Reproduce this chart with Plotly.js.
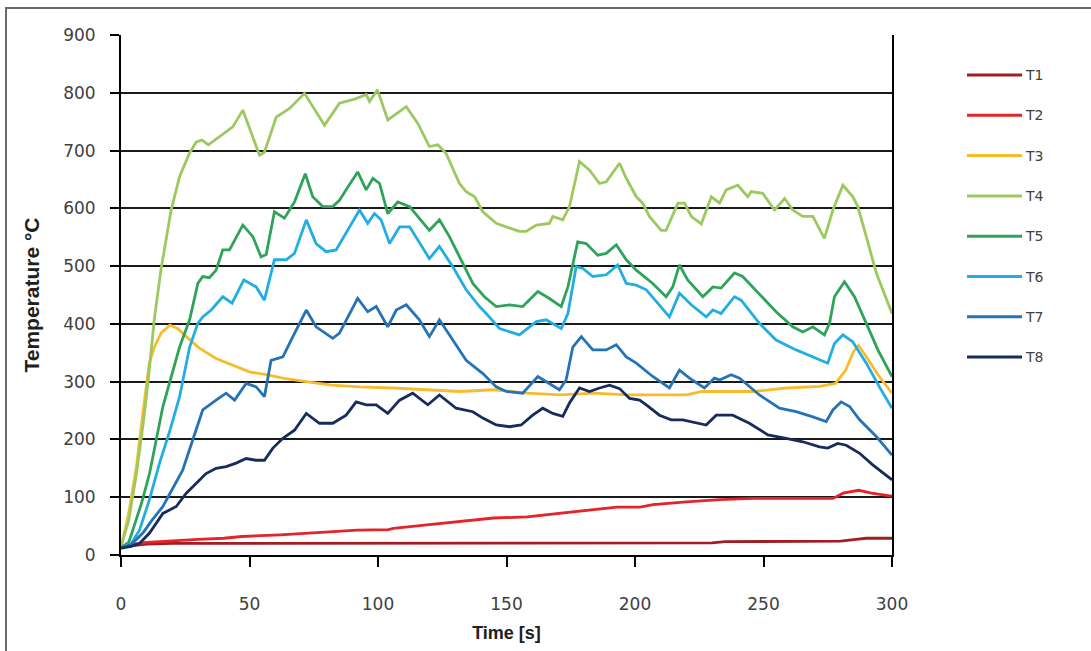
<!DOCTYPE html>
<html>
<head>
<meta charset="utf-8">
<script src="https://cdn.plot.ly/plotly-3.0.1.min.js"></script>
<style>
  html, body { margin: 0; padding: 0; background: #ffffff; }
  #chart { width: 1091px; height: 651px; }
</style>
</head>
<body>
<div id="chart"></div>
<script>
// Thermocouple readings T1..T8, time in seconds, temperature in °C
const seriesNames = ["T1", "T2", "T3", "T4", "T5", "T6", "T7", "T8"];
const seriesColors = ["#A11D22", "#E3242B", "#F7BC2C", "#9CC95F", "#2FA35A", "#22ADE3", "#2573B6", "#172B5C"];

const t1Time = [0, 5, 10, 20, 40, 80, 120, 160, 200, 230, 235, 280, 286, 290, 300];
const t1Temp = [14, 17, 19, 20, 20, 20, 20, 20, 20, 21, 23, 24, 27, 29, 29];

const t2Time = [0, 5, 10, 20, 30, 40, 47, 62, 82, 92, 104, 106, 119, 132, 145, 158, 171, 184, 193, 202, 207, 220, 233, 246, 259, 277, 281, 287, 292, 300];
const t2Temp = [14, 19, 22, 25, 27, 29, 32, 35, 40, 43, 44, 46, 52, 58, 64, 66, 72, 78, 83, 83, 87, 92, 96, 98, 98, 98, 107, 112, 107, 102];

const t3Time = [0, 1, 3, 6, 8.5, 11, 13, 15.6, 19, 22, 25.4, 30.5, 37, 43.5, 50, 56.5, 63, 72, 82, 93, 101, 106, 119, 132, 145, 158, 171, 184, 197, 207, 220, 226, 246, 259, 272, 278, 282, 285, 287, 290, 295, 300];
const t3Temp = [15, 32, 72, 153, 245, 332, 360, 384, 398, 392, 378, 358, 340, 329, 317, 312, 306, 300, 294, 291, 289, 289, 286, 283, 286, 280, 277, 280, 277, 277, 277, 283, 283, 289, 292, 297, 320, 352, 363, 343, 309, 280];

const t4Time = [0, 3, 6, 9, 11, 13, 15.6, 19.5, 22.8, 26.6, 29.3, 31.5, 34, 38.3, 43.5, 47.4, 53.9, 55.8, 60.4, 65.6, 71.4, 79.2, 85, 91.5, 95.4, 96.7, 99.8, 103.8, 111, 115.5, 120, 123.3, 126.5, 131.7, 134.3, 137.6, 140.8, 146, 150, 155, 157.6, 161.6, 166.7, 168, 171.9, 174.5, 178.4, 182.3, 186.2, 188.8, 194, 196.6, 200.5, 203, 205.6, 210.2, 212.1, 216.7, 219.3, 221.9, 225.8, 229.7, 232.9, 235.5, 240, 243.9, 245.2, 249.7, 254.3, 258.2, 261.4, 265.3, 269.2, 273.7, 277, 280.9, 284.8, 286.7, 290, 293.9, 300];
const t4Temp = [15, 60, 140, 240, 320, 410, 495, 597, 655, 695, 715, 718, 710, 724, 741, 770, 692, 697, 758, 773, 799, 744, 782, 790, 797, 785, 805, 753, 776, 747, 707, 710, 695, 643, 629, 620, 594, 574, 568, 560, 560, 571, 574, 586, 580, 603, 681, 666, 643, 646, 678, 652, 620, 609, 586, 562, 562, 609, 609, 586, 573, 620, 609, 632, 640, 620, 629, 626, 597, 617, 597, 586, 586, 548, 597, 640, 620, 603, 551, 488, 418];

const t5Time = [0, 3, 4.6, 8, 11.1, 16.3, 22.8, 26.7, 29.9, 31.8, 34.4, 37, 39.6, 42.2, 47.4, 51.3, 54.5, 56.5, 59.7, 63.6, 67.5, 71.7, 74.6, 78.5, 82.4, 85, 87.6, 92.1, 95.4, 98, 100.6, 103.8, 107.7, 112.3, 120, 123.9, 127.8, 133, 136.9, 141.4, 146, 151.2, 156.3, 162.2, 166.7, 171.3, 173.9, 177.7, 181, 185.5, 188.8, 192.7, 196.6, 200.5, 206.9, 212.1, 214.7, 217.3, 220.5, 226.4, 230.3, 233.5, 238.7, 241.9, 245.8, 254.9, 261.4, 265.3, 269.2, 273.7, 275.7, 277.6, 281.5, 285.4, 290, 294.5, 300];
const t5Temp = [13, 22, 43, 90, 141, 257, 360, 407, 470, 482, 480, 493, 528, 528, 571, 551, 516, 520, 594, 583, 611, 660, 620, 603, 603, 614, 632, 663, 632, 652, 643, 591, 611, 603, 562, 580, 551, 505, 470, 447, 430, 433, 430, 456, 444, 430, 464, 542, 539, 519, 522, 537, 511, 493, 470, 447, 464, 502, 476, 447, 464, 462, 488, 482, 464, 421, 395, 386, 395, 381, 401, 447, 473, 447, 401, 355, 309];

const t6Time = [0, 4, 7.2, 11, 15, 19, 22.8, 26.7, 29.9, 31.8, 35.1, 39.6, 43.2, 47.8, 52.6, 55.8, 59.7, 64.3, 67.5, 72.1, 75.9, 79.8, 83.7, 87.6, 92.8, 96, 98.6, 101.2, 104.5, 108.4, 112.3, 120, 123.9, 129.1, 134.3, 139.5, 142.1, 147.3, 155, 161.6, 165.4, 171.3, 173.9, 177.1, 179.7, 183.6, 188.8, 193.3, 196.6, 200.5, 204.4, 213.4, 217.3, 221.9, 227.7, 230.3, 233.5, 238.7, 241.3, 248.4, 254.9, 262.7, 269.2, 275, 277.6, 280.9, 284.7, 290, 295.1, 300];
const t6Temp = [12, 20, 43, 95, 159, 215, 274, 360, 401, 412, 424, 447, 436, 476, 464, 441, 511, 511, 522, 580, 539, 525, 528, 557, 597, 574, 591, 580, 539, 568, 568, 513, 534, 499, 459, 430, 418, 392, 381, 404, 407, 392, 418, 499, 496, 482, 485, 502, 470, 467, 459, 412, 453, 433, 412, 424, 418, 447, 441, 401, 372, 355, 343, 332, 366, 381, 369, 332, 291, 254];

const t7Time = [0, 4, 8.5, 12, 16.3, 20, 24, 27.9, 31.8, 37, 40.9, 44.2, 48.7, 52.6, 55.8, 58.4, 63, 66.2, 72.1, 75.9, 82.4, 85, 88.9, 92.1, 96, 99.3, 103.8, 107.1, 111, 116.1, 120, 123.9, 129.1, 134.3, 140.8, 146, 149.9, 156.3, 162.2, 165.4, 170.6, 173.2, 175.8, 179.1, 183.6, 188.8, 192.7, 196.6, 200.5, 206.9, 213.4, 217.3, 221.2, 227, 230.9, 232.9, 237.4, 240.7, 248.4, 256.2, 262.7, 269.2, 274.4, 277, 280.2, 283.5, 287.4, 293.9, 300];
const t7Temp = [12, 18, 38, 60, 84, 115, 147, 199, 251, 268, 280, 268, 297, 291, 274, 337, 343, 372, 424, 395, 375, 384, 418, 444, 421, 430, 395, 424, 433, 407, 378, 407, 372, 337, 314, 291, 283, 280, 309, 300, 286, 303, 360, 378, 355, 355, 364, 343, 332, 309, 289, 320, 306, 289, 306, 303, 312, 306, 277, 254, 248, 239, 231, 251, 265, 257, 234, 205, 173];

const t8Time = [0, 4, 7.2, 11.1, 16.3, 21.5, 25.4, 29.3, 33.1, 37, 40.9, 44.8, 48.7, 52.6, 55.8, 59.1, 63, 67.5, 72.1, 77.2, 82.4, 87.6, 91.5, 95.4, 99.3, 103.8, 108.4, 113.5, 119.4, 123.9, 130.4, 136.9, 140.8, 146, 151.2, 155.7, 160.2, 164.1, 168, 171.9, 174.5, 178.4, 182.3, 186.2, 190.1, 194, 197.9, 201.8, 204.4, 209.5, 214.1, 218.6, 227.7, 231.6, 238, 244.5, 251.7, 258.8, 265.3, 271.8, 275, 278.9, 282.2, 287.4, 292.5, 300];
const t8Temp = [12, 15, 20, 38, 72, 84, 107, 124, 141, 150, 153, 159, 167, 164, 164, 185, 202, 216, 245, 228, 228, 242, 265, 260, 260, 245, 268, 280, 260, 277, 254, 248, 237, 225, 222, 225, 242, 254, 245, 240, 263, 289, 283, 289, 294, 288, 271, 268, 260, 242, 234, 234, 225, 242, 242, 228, 208, 202, 196, 187, 185, 193, 190, 176, 156, 130];

const seriesTimes = [t1Time, t2Time, t3Time, t4Time, t5Time, t6Time, t7Time, t8Time];
const seriesTemps = [t1Temp, t2Temp, t3Temp, t4Temp, t5Temp, t6Temp, t7Temp, t8Temp];

const traces = seriesNames.map((name, i) => ({
  type: "scatter",
  mode: "lines",
  name: name,
  x: seriesTimes[i],
  y: seriesTemps[i],
  line: { color: seriesColors[i], width: 2.8, shape: "linear" },
  hoverinfo: "x+y+name",
  showlegend: false
}));

// Plot area geometry in pixels, used to place the side key and frame
const W = 1091, H = 651;
const M = { l: 121, r: 199, t: 35, b: 96 };
const plotW = W - M.l - M.r, plotH = H - M.t - M.b;
const px2x = px => (px - M.l) / plotW;
const py2y = py => (H - M.b - py) / plotH;

const shapes = [];
const annotations = [];

// Outer chart frame
shapes.push({
  type: "rect", xref: "paper", yref: "paper",
  x0: px2x(6), x1: px2x(1096), y0: py2y(656), y1: py2y(8),
  line: { color: "#6b6b6b", width: 2 }, fillcolor: "rgba(0,0,0,0)", layer: "below"
});

// Side key: a line sample and label per series
seriesNames.forEach((name, i) => {
  const yy = py2y(75 + i * 40.3);
  shapes.push({
    type: "line", xref: "paper", yref: "paper",
    x0: px2x(967), x1: px2x(1022), y0: yy, y1: yy,
    line: { color: seriesColors[i], width: 3 }
  });
  annotations.push({
    xref: "paper", yref: "paper", x: px2x(1023), y: yy,
    xanchor: "left", yanchor: "middle", showarrow: false,
    text: name, font: { family: "DejaVu Sans", size: 14, color: "#404040" }
  });
});

const tickFont = { family: "DejaVu Sans", size: 17, color: "#404040" };

const layout = {
  width: W, height: H,
  margin: M,
  paper_bgcolor: "#ffffff",
  plot_bgcolor: "#ffffff",
  showlegend: false,
  xaxis: {
    range: [0, 300],
    tickvals: [0, 50, 100, 150, 200, 250, 300],
    showgrid: false,
    zeroline: false,
    showline: true, linecolor: "#000000", linewidth: 2,
    ticks: "outside", ticklen: 10, tickwidth: 2, tickcolor: "#000000",
    ticklabelstandoff: 23,
    tickfont: tickFont,
    title: { text: "Time [s]", standoff: 13,
             font: { family: "Liberation Sans", size: 18, color: "#202020", weight: "bold" } }
  },
  yaxis: {
    range: [0, 900],
    tickvals: [0, 100, 200, 300, 400, 500, 600, 700, 800, 900],
    showgrid: true, gridcolor: "#1a1a1a", gridwidth: 2,
    zeroline: false,
    showline: true, linecolor: "#000000", linewidth: 2, mirror: true,
    ticks: "outside", ticklen: 9, tickwidth: 2, tickcolor: "#000000",
    ticklabelstandoff: 11,
    tickfont: tickFont,
    title: { text: "Temperature °C", standoff: 18,
             font: { family: "Liberation Sans", size: 21, color: "#202020", weight: "bold" } }
  },
  shapes: shapes,
  annotations: annotations
};

Plotly.newPlot("chart", traces, layout, { displayModeBar: false, staticPlot: true });
</script>
</body>
</html>
